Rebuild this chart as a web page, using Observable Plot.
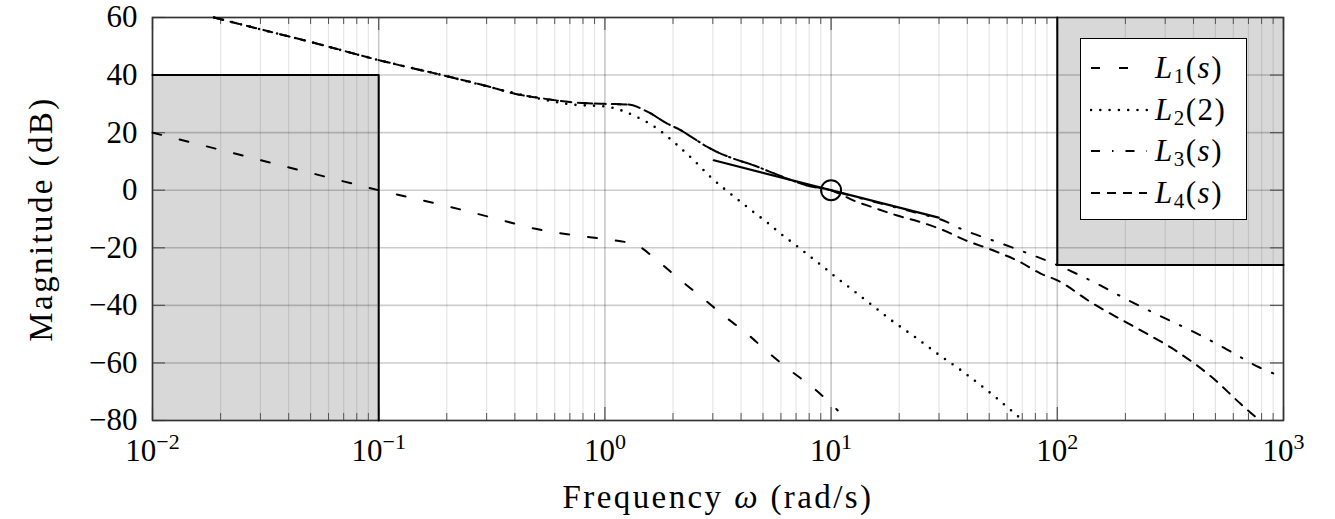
<!DOCTYPE html>
<html>
<head>
<meta charset="utf-8">
<script src="https://cdn.jsdelivr.net/npm/d3@7"></script>
<script src="https://cdn.jsdelivr.net/npm/@observablehq/plot@0.6"></script>
<style>
  html, body { margin: 0; padding: 0; background: #fff; }
  #wrap { position: relative; width: 1335px; height: 519px; font-family: "Liberation Serif", "DejaVu Serif", serif; }
  #legend { position: absolute; left: 1080px; top: 38px; width: 165px; height: 180px; background: #fff; border: 1.6px solid #000; }
  .row { position: absolute; left: 0; height: 40px; width: 165px; }
  .row svg { position: absolute; left: 9px; top: 0; }
  .row .lab { position: absolute; left: 74px; top: 0; line-height: 40px; font-size: 31px; letter-spacing: 1.5px; color: #000; white-space: nowrap; }
  .row .lab sub { font-size: 21px; vertical-align: -5px; line-height: 0; }
</style>
</head>
<body>
<div id="wrap"></div>
<script>
// ---- data (frequency in rad/s, magnitude in dB) ----
const w1 = [0.01, 0.02, 0.05, 0.1, 0.2, 0.32, 0.5, 0.76, 1, 1.37, 1.72, 2.14, 2.7, 3.38, 4.24, 5.3, 6.67, 8.36, 10.7];
const L1 = [20, 14, 6, 0, -5.5, -9.6, -13.5, -15.8, -17, -19, -24.7, -31, -37.4, -43.8, -49.8, -56.5, -62.9, -68.7, -76.5];

const w2 = [0.0187, 0.03, 0.05, 0.1, 0.2, 0.3, 0.5, 0.71, 1, 1.39, 1.71, 2.06, 2.48, 2.94, 3.37, 3.92, 4.49, 5.2, 5.98, 6.85, 7.98, 9.16, 10.5, 12.1, 15.1, 18.7, 23.5, 29.3, 38.5, 52.2, 69.7];
const L2 = [60, 55.9, 51.5, 45.2, 39.6, 36.1, 32, 29.8, 29.1, 25.4, 21.3, 16.1, 10.3, 4.5, 0.5, -3.6, -7.3, -11.1, -15.1, -18.6, -22.7, -26.4, -30.2, -33.9, -39.8, -45.5, -51, -56.6, -63.2, -71.3, -79.7];

// common low-frequency part of L3 and L4
const wU = [0.0187, 0.03, 0.05, 0.1, 0.2, 0.3, 0.41, 0.5, 0.71, 1, 1.26, 1.54, 1.88, 2.17, 2.48, 2.83, 3.04, 3.72, 4.57, 5.41, 6.41, 7.85, 10];
const LU = [60, 55.9, 51.5, 45.2, 39.6, 36.2, 33.3, 32.2, 30.6, 30, 29.8, 27.3, 23.2, 20.8, 17.9, 15.1, 13.8, 10.9, 8.6, 6.3, 4.0, 1.6, 0];

const w3 = [12.6, 15.8, 20, 25.1, 31.6, 37.2, 53, 74.5, 100, 150, 207, 292, 403, 556, 780, 1000];
const L3 = [-2.2, -4.2, -6.3, -8.3, -10.6, -13.3, -17.7, -22, -26, -32.5, -38.3, -44.1, -49.3, -55.1, -61.5, -65];

const w4 = [12.6, 15.5, 19.6, 24.9, 31.6, 38.5, 54, 68.4, 84.5, 100, 140.6, 234, 320, 389, 480, 646, 753, 785];
const L4 = [-3.6, -6.1, -8.8, -11.1, -14, -17.1, -21.4, -24.9, -29, -31.3, -38.9, -48.7, -54.8, -59.3, -64.8, -74.2, -78.8, -80];

// tangent line and crossover marker
const wT = [3.03, 29.9];
const LT = [10.4, -9.5];
const wM = [10];
const LM = [0];

// forbidden regions
const zoneW1 = [0.01, 100];
const zoneW2 = [0.1, 1000];
const zoneDb1 = [-80, -26];
const zoneDb2 = [40, 60];

// axis ticks
const xMajor = [0.01, 0.1, 1, 10, 100, 1000];
const yTicks = [-80, -60, -40, -20, 0, 20, 40, 60];
const xMinor = [];
for (const d of [0.01, 0.1, 1, 10, 100]) for (let k = 2; k <= 9; k++) xMinor.push(d * k);

// ---- tables ----
const tab = (ws, vs) => ws.map((w, i) => ({w, db: vs[i]}));
const d1 = tab(w1, L1);
const d2 = tab(w2, L2);
const d3s = tab(wU.concat(w3), LU.concat(L3));
const d4s = tab(wU.concat(w4), LU.concat(L4));
const dT = tab(wT, LT);
const dM = tab(wM, LM);
const zones = zoneW1.map((w, i) => ({x1: w, x2: zoneW2[i], y1: zoneDb1[i], y2: zoneDb2[i]}));
const borderLeft = [
  {w: zoneW1[0], db: zoneDb2[0]}, {w: zoneW2[0], db: zoneDb2[0]}, {w: zoneW2[0], db: zoneDb1[0]}
];
const borderRight = [
  {w: zoneW1[1], db: zoneDb2[1]}, {w: zoneW1[1], db: zoneDb1[1]}, {w: zoneW2[1], db: zoneDb1[1]}
];

const W = 1335, H = 519, mL = 152, mR = 52, mT = 17, mB = 99;
const iw = W - mL - mR, ih = H - mT - mB;
const majLen = 13, minLen = 7;

const lineStyle = {x: "w", y: "db", stroke: "black", strokeWidth: 2, curve: "monotone-x"};

const plot = Plot.plot({
  width: W, height: H,
  marginLeft: mL, marginRight: mR, marginTop: mT, marginBottom: mB,
  x: {type: "log", domain: [0.01, 1000]},
  y: {domain: [-80, 60]},
  style: {fontFamily: "'Liberation Serif', 'DejaVu Serif', serif", fontSize: "31px", color: "black", background: "white"},
  marks: [
    Plot.rect(zones, {x1: "x1", x2: "x2", y1: "y1", y2: "y2", fill: "#d8d8d8"}),
    Plot.gridX(xMinor, {stroke: "black", strokeOpacity: 0.1, strokeWidth: 1.2}),
    Plot.gridX(xMajor, {stroke: "black", strokeOpacity: 0.22, strokeWidth: 1.6}),
    Plot.gridY(yTicks, {stroke: "black", strokeOpacity: 0.2, strokeWidth: 1.6}),
    // inward ticks on all four sides
    Plot.tickX(xMinor, {x: d => d, insetTop: ih - minLen, stroke: "#555", strokeWidth: 1}),
    Plot.tickX(xMinor, {x: d => d, insetBottom: ih - minLen, stroke: "#555", strokeWidth: 1}),
    Plot.tickX(xMajor, {x: d => d, insetTop: ih - majLen, stroke: "#555", strokeWidth: 1.2}),
    Plot.tickX(xMajor, {x: d => d, insetBottom: ih - majLen, stroke: "#555", strokeWidth: 1.2}),
    Plot.tickY(yTicks, {y: d => d, insetRight: iw - majLen, stroke: "#555", strokeWidth: 1.2}),
    Plot.tickY(yTicks, {y: d => d, insetLeft: iw - majLen, stroke: "#555", strokeWidth: 1.2}),
    Plot.frame({stroke: "#333", strokeWidth: 1.6}),
    Plot.line(borderLeft, {x: "w", y: "db", stroke: "black", strokeWidth: 2}),
    Plot.line(borderRight, {x: "w", y: "db", stroke: "black", strokeWidth: 2}),
    // loop shapes
    Plot.line(d4s, {...lineStyle, strokeDasharray: "9,8"}),
    Plot.line(d3s, {...lineStyle, strokeDasharray: "9,12,1.5,12"}),
    Plot.line(d2, {...lineStyle, strokeWidth: 2.6, strokeLinecap: "round", strokeDasharray: "0,9.3"}),
    Plot.line(d1, {...lineStyle, strokeDasharray: "9,19"}),
    Plot.line(dT, {x: "w", y: "db", stroke: "black", strokeWidth: 2.2}),
    Plot.dot(dM, {x: "w", y: "db", r: 10, stroke: "black", strokeWidth: 2, fill: "none"}),
    // axes with labels
    Plot.axisX(xMajor, {anchor: "bottom", tickSize: 0, tickPadding: 18, fontSize: 31,
      tickFormat: d => String(Math.round(Math.log10(d))),
      label: "Frequency ω (rad/s)", labelAnchor: "center", labelOffset: 87, labelArrow: "none"}),
    Plot.axisY(yTicks, {anchor: "left", tickSize: 0, tickPadding: 15, fontSize: 31,
      label: "Magnitude (dB)", labelAnchor: "center", labelOffset: 124, labelArrow: "none"})
  ]
});

// superscript powers of ten on the x tick labels, italic omega in the x label
const NS = "http://www.w3.org/2000/svg";
plot.querySelectorAll('g[aria-label="x-axis tick label"] text').forEach(t => {
  const e = t.textContent;
  if (e === "") return;
  t.textContent = "";
  const base = document.createElementNS(NS, "tspan");
  base.textContent = "10";
  const sup = document.createElementNS(NS, "tspan");
  sup.setAttribute("dy", "-12");
  sup.setAttribute("font-size", "22");
  sup.textContent = e.replace("-", "\u2212");
  t.appendChild(base);
  t.appendChild(sup);
});
plot.querySelectorAll("text").forEach(t => {
  const s = t.textContent;
  if (s === "Frequency ω (rad/s)" || s === "Magnitude (dB)") {
    t.setAttribute("font-size", "33");
    t.setAttribute("letter-spacing", "2.4");
  }
  if (s === "Frequency ω (rad/s)") {
    t.textContent = "";
    const a = document.createElementNS(NS, "tspan"); a.textContent = "Frequency ";
    const b = document.createElementNS(NS, "tspan"); b.textContent = "ω"; b.setAttribute("font-style", "italic");
    const c = document.createElementNS(NS, "tspan"); c.textContent = " (rad/s)";
    t.appendChild(a); t.appendChild(b); t.appendChild(c);
  }
});

const wrap = document.getElementById("wrap");
wrap.appendChild(plot);

// legend
const legendItems = [
  {html: "<i>L</i><sub>1</sub>(<i>s</i>)", dash: "9,19", cap: "butt", sw: 2},
  {html: "<i>L</i><sub>2</sub>(2)", dash: "0,9.3", cap: "round", sw: 2.6},
  {html: "<i>L</i><sub>3</sub>(<i>s</i>)", dash: "9,12,1.5,12", cap: "butt", sw: 2},
  {html: "<i>L</i><sub>4</sub>(<i>s</i>)", dash: "9,7", cap: "butt", sw: 2}
];
const legend = document.createElement("div");
legend.id = "legend";
legendItems.forEach((it, i) => {
  const row = document.createElement("div");
  row.className = "row";
  row.style.top = (9 + i * 41.5) + "px";
  row.innerHTML = `<svg width="58" height="40"><line x1="1" y1="20" x2="57" y2="20" stroke="black" stroke-width="${it.sw}" stroke-linecap="${it.cap}" stroke-dasharray="${it.dash}"/></svg><span class="lab">${it.html}</span>`;
  legend.appendChild(row);
});
wrap.appendChild(legend);
</script>
</body>
</html>
